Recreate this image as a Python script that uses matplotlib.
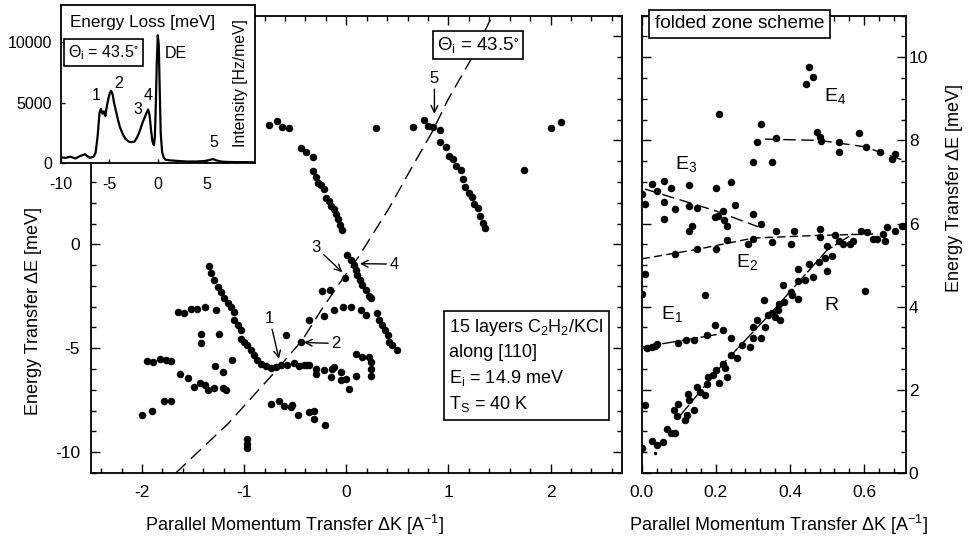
import numpy as np
import matplotlib
matplotlib.use("Agg")
import matplotlib.pyplot as plt
from matplotlib.ticker import MultipleLocator, FixedLocator, FixedFormatter

plt.rcParams['font.family'] = ['Liberation Sans', 'DejaVu Sans']
plt.rcParams['mathtext.fontset'] = 'custom'
plt.rcParams['mathtext.rm'] = 'Liberation Sans'
plt.rcParams['mathtext.it'] = 'Liberation Sans:italic'
plt.rcParams['mathtext.default'] = 'regular'
plt.rcParams['axes.unicode_minus'] = False

# ---------------- data: left panel (extended zone) ----------------
left_dk = [-0.757, -0.681, -0.626, -0.561, 0.293, 0.651, 0.765, 0.80, 0.85, 0.92, 2.007, 2.10,
           -0.44, -0.398, -0.326, -0.326, -0.30, -0.278, -0.244, -0.219, -0.196, -0.17, -0.147, -0.121, -0.105, -0.082, -0.063, -0.039,
           0.922, 0.978, 1.003, 1.046, 1.075, 1.124, 1.14, 1.166, 1.205, 1.232, 1.254, 1.287, 1.313, 1.339, 1.362, 1.736,
           0.01, 0.042, 0.074, 0.091, 0.108, 0.133, 0.156, 0.189, 0.221, 0.238, -0.014, -0.235, -0.16,
           -0.219, -0.121, -0.029, 0.042, 0.14, 0.189, 0.296, 0.319, 0.352, 0.384, 0.407, 0.417, 0.45, 0.492,
           -0.366, -0.447, -0.593,
           0.091, 0.156, 0.221, 0.238, 0.238, 0.238, -0.121, -0.056, 0.091, -0.219, -0.30, -0.38, -0.153, -0.056, -0.007, 0.025, -0.137, -0.30,
           -1.343, -1.32, -1.294, -1.261, -1.229, -1.196, -1.163, -1.131, -1.099, -1.099, -1.065, -1.033, -1.033, -1.0, -0.968, -0.935, -0.903, -0.870, -0.838, -0.789, -0.740, -0.69,
           -0.642, -0.577, -0.512, -0.463, -0.414, -0.366,
           -1.652, -1.593, -1.522, -1.457, -1.385, -1.278, -1.424, -1.424, -1.245,
           -1.952, -1.896, -1.822, -1.766, -1.717,
           -1.627, -1.548, -1.496, -1.431, -1.382, -1.359, -1.294, -1.206, -1.18,
           -1.287, -1.212, -1.124, -1.783, -1.717, -2.0, -1.906, -0.975, -0.968, -0.968,
           -0.740, -0.659, -0.610, -0.545, -0.528, -0.473, -0.366, -0.317, -0.317, -0.209]
left_de = [5.76, 5.95, 5.66, 5.59, 5.59, 5.63, 6.0, 5.71, 5.63, 5.50, 5.59, 5.88,
           4.63, 4.45, 4.21, 3.53, 3.26, 2.97, 2.84, 2.65, 2.25, 2.08, 1.84, 1.68, 1.44, 1.23, 0.95, 0.71,
           4.91, 4.70, 4.26, 4.10, 3.78, 3.57, 3.13, 2.78, 2.49, 2.29, 1.92, 1.76, 1.36, 1.04, 0.79, 3.57,
           -0.53, -0.74, -0.98, -1.22, -1.47, -1.71, -1.95, -2.19, -2.48, -2.59, -1.63, -2.24, -2.19,
           -3.45, -3.16, -3.03, -3.0, -3.16, -3.40, -3.29, -3.64, -3.89, -4.13, -4.37, -4.69, -4.85, -5.10,
           -3.64, -4.69, -4.37,
           -5.26, -5.42, -5.42, -5.66, -5.98, -6.31, -5.90, -6.15, -6.31, -6.06, -6.22, -5.82, -6.39, -6.51, -6.47, -6.95, -5.98, -5.98,
           -1.03, -1.39, -1.71, -2.03, -2.27, -2.60, -2.84, -3.0, -3.24, -3.64, -3.89, -4.13, -4.53, -4.69, -4.85, -5.10, -5.34, -5.58, -5.74, -5.87, -5.93, -5.88,
           -5.82, -5.82, -5.71, -5.87, -5.82, -5.82,
           -3.24, -3.29, -3.13, -3.13, -3.0, -3.16, -4.29, -4.77, -4.29,
           -5.61, -5.66, -5.53, -5.58, -5.63,
           -6.22, -6.44, -6.87, -6.68, -6.79, -7.03, -6.90, -6.90, -7.03,
           -5.87, -6.15, -5.58, -7.52, -7.52, -8.21, -8.0, -9.37, -9.61, -9.81,
           -7.68, -7.55, -7.76, -7.84, -7.71, -8.19, -8.08, -8.0, -8.40, -8.68]

# scan curve for Theta_i = 43.5 deg
scan_dk = [-1.67, -1.16, -0.71, -0.43, -0.25, -0.07, 0.12, 0.42, 0.63, 0.84, 1.00, 1.21, 1.43]
scan_de = [-11.0, -8.64, -6.2, -4.6, -3.2, -1.9, -0.6, 1.75, 3.6, 5.4, 7.0, 8.8, 11.0]

left_yticks = [-10, -5, 0, 5, 10]
left_yticklabels = ['-10', '-5', '0', '', '']

# ---------------- data: right panel (folded zone) ----------------
right_dk = [0.452, 0.4615, 0.443, 0.2095, 0.321, 0.310, 0.362, 0.2995, 0.351, 0.472, 0.481, 0.483, 0.533, 0.533, 0.585, 0.605, 0.643, 0.675, 0.684,
            0.0, 0.009, 0.027, 0.040, 0.060, 0.060, 0.060, 0.079, 0.090, 0.128, 0.128, 0.150, 0.128, 0.135, 0.2005, 0.240, 0.198, 0.207, 0.220, 0.223, 0.231, 0.252, 0.301, 0.322,
            0.090, 0.150, 0.2005, 0.231, 0.288, 0.301, 0.351, 0.362, 0.402, 0.411, 0.481, 0.481, 0.522, 0.533, 0.562, 0.571, 0.591, 0.607, 0.625, 0.636, 0.652, 0.657, 0.663, 0.684, 0.702, 0.710,
            0.0, 0.009, 0.009, 0.0, 0.171, 0.603,
            0.015, 0.027, 0.036, 0.040, 0.099, 0.120, 0.141, 0.177, 0.198, 0.220, 0.240,
            0.027, 0.040, 0.058, 0.069, 0.078, 0.090, 0.087, 0.099, 0.096, 0.117, 0.121, 0.126, 0.128, 0.141, 0.150, 0.157, 0.171, 0.175, 0.180, 0.192,
            0.2095, 0.2005, 0.220, 0.225, 0.231, 0.240, 0.258, 0.270, 0.292, 0.2995, 0.301, 0.310, 0.321, 0.330, 0.333, 0.342, 0.351, 0.360, 0.373, 0.371,
            0.381, 0.402, 0.423, 0.423, 0.423, 0.441, 0.450, 0.4615, 0.477, 0.501, 0.513, 0.495, 0.501, 0.544, 0.369, 0.405, 0.383]
right_de = [9.76, 9.53, 9.36, 8.64, 8.39, 7.96, 8.05, 7.49, 7.49, 8.20, 8.07, 7.99, 7.95, 7.71, 8.19, 7.83, 7.71, 7.55, 7.67,
            6.72, 6.48, 6.96, 6.79, 7.03, 6.53, 6.11, 6.85, 6.35, 6.93, 6.43, 6.37, 5.83, 5.95, 6.85, 6.99, 6.15, 6.19, 6.31, 6.08, 5.95, 6.45, 6.24, 6.00,
            5.27, 5.38, 5.38, 5.61, 5.52, 5.63, 5.56, 5.83, 5.52, 5.83, 5.87, 5.68, 5.72, 5.57, 5.52, 5.59, 5.83, 5.79, 5.63, 5.63, 5.75, 5.59, 5.92, 5.83, 5.95, 5.95,
            4.31, 4.79, 1.63, 0.61, 4.29, 4.37,
            3.01, 3.03, 3.06, 3.11, 3.12, 3.20, 3.19, 3.31, 3.55, 3.43, 3.25,
            0.77, 0.67, 0.74, 1.07, 0.96, 0.96, 1.51, 1.65, 1.36, 1.27, 1.39, 1.91, 1.75, 1.52, 2.06, 1.94, 1.88, 2.15, 2.32, 2.35,
            2.16, 2.47, 2.63, 2.53, 2.31, 2.85, 2.77, 3.09, 3.04, 3.25, 3.52, 3.67, 3.25, 4.16, 3.51, 3.79, 3.84, 3.76, 3.67, 4.07,
            4.52, 4.35, 4.19, 4.63, 4.91, 4.64, 5.03, 4.72, 5.07, 4.85, 5.23, 5.17, 5.47, 5.52, 3.91, 4.29, 4.11]
small_dk = [0.036]
small_de = [0.48]

# guide lines
e4_dk, e4_de = [0.333, 0.48, 0.60, 0.713], [8.03, 8.0, 7.85, 7.5]
e3_dk, e3_de = [0.009, 0.198, 0.315], [6.83, 6.31, 5.92]
e2_dk, e2_de = [0.0, 0.15, 0.30, 0.46, 0.63], [5.15, 5.38, 5.65, 5.71, 5.75]
e1_dk, e1_de = [0.004, 0.2025], [3.03, 3.33]
r_dk, r_de = [0.099, 0.22, 0.355, 0.50, 0.57], [1.33, 2.63, 3.91, 5.36, 5.75]

# ---------------- data: inset TOF spectrum ----------------
spec_e = [-10, -9.5, -9, -8.5, -8, -7.5, -7, -6.6, -6.4, -6.2, -6.0, -5.85, -5.7, -5.55, -5.4, -5.25, -5.1,
          -4.95, -4.8, -4.65, -4.5, -4.3, -4.1, -3.9, -3.6, -3.3, -3.0, -2.7, -2.4, -2.1, -1.8, -1.6, -1.4,
          -1.2, -1.0, -0.85, -0.7, -0.55, -0.4, -0.3, -0.2, -0.1, 0.0, 0.1, 0.2, 0.3, 0.45, 0.6, 0.8, 1.2,
          2, 3, 4, 5, 5.4, 5.7, 6.0, 6.5, 7, 8, 9, 10]
spec_i = [500, 450, 550, 400, 600, 750, 450, 550, 900, 2200, 4200, 4500, 4100, 4300, 3900, 4700, 5300,
          5800, 6000, 5700, 5000, 4300, 3600, 3000, 2400, 2000, 1800, 1750, 1800, 2200, 2800, 3300, 3700,
          4100, 4450, 4000, 2800, 1800, 1500, 2200, 5000, 8500, 10600, 9800, 6000, 2500, 900, 500, 300, 250,
          200, 150, 150, 200, 300, 350, 250, 150, 120, 100, 100, 80]

# ---------------- figure ----------------
fig = plt.figure(figsize=(9.69, 5.41), dpi=100)
axL = fig.add_axes([0.0939, 0.1257, 0.5480, 0.8453])
axR = fig.add_axes([0.6622, 0.1257, 0.2728, 0.8453])
axI = fig.add_axes([0.0626, 0.6981, 0.2005, 0.2926])

def style(ax, lw=1.3):
    for s in ax.spines.values():
        s.set_linewidth(lw)
    ax.tick_params(which='both', direction='in', top=True, right=True, width=1.0, colors='black')
    ax.tick_params(which='major', length=6.5, labelsize=12.5)
    ax.tick_params(which='minor', length=3.5)

# left panel
style(axL)
axL.plot(left_dk, left_de, 'o', color='black', markersize=5.4, markeredgewidth=0)
axL.plot(scan_dk, scan_de, color='black', lw=1.0, dashes=(10, 5))
axL.set_xlim(-2.5, 2.7)
axL.set_ylim(-11, 11)
axL.xaxis.set_major_locator(MultipleLocator(1))
axL.xaxis.set_minor_locator(MultipleLocator(0.2))
axL.yaxis.set_major_locator(FixedLocator(left_yticks))
axL.yaxis.set_major_formatter(FixedFormatter(left_yticklabels))
axL.yaxis.set_minor_locator(MultipleLocator(1))
axL.tick_params(axis='x', pad=9)
axL.tick_params(axis='y', pad=8)
axL.set_xlabel('Parallel Momentum Transfer ΔK [A$^{-1}$]', fontsize=13)
axL.set_ylabel('Energy Transfer ΔE [meV]', fontsize=13)
axL.xaxis.set_label_coords(0.384, -0.114)
axL.xaxis.label.set_va('center')
axL.yaxis.set_label_coords(-0.109, 0.354)
axL.yaxis.label.set_va('center')

axL.text(1.293, 9.58, r'$\Theta_i$ = 43.5$^{\circ}$', fontsize=13.5, ha='center', va='center',
         bbox=dict(boxstyle='square,pad=0.2', fc='white', ec='black', lw=1.2))
axL.text(1.01, -3.5, '15 layers C$_2$H$_2$/KCl\nalong [110]\nE$_i$ = 14.9 meV\nT$_S$ = 40 K',
         fontsize=13, ha='left', va='top', linespacing=1.45,
         bbox=dict(boxstyle='square,pad=0.3', fc='white', ec='black', lw=1.2))
arrowp = dict(arrowstyle='->', color='black', lw=1.0, shrinkA=0, shrinkB=0)
axL.annotate('5', xy=(0.863, 6.28), xytext=(0.863, 7.6), ha='center', va='bottom', fontsize=12, arrowprops=arrowp)
axL.annotate('1', xy=(-0.659, -5.5), xytext=(-0.75, -3.95), ha='center', va='bottom', fontsize=12, arrowprops=arrowp)
axL.annotate('2', xy=(-0.414, -4.72), xytext=(-0.15, -4.77), ha='left', va='center', fontsize=12, arrowprops=arrowp)
axL.annotate('3', xy=(-0.039, -1.34), xytext=(-0.25, -0.15), ha='right', va='center', fontsize=12, arrowprops=arrowp)
axL.annotate('4', xy=(0.133, -0.93), xytext=(0.42, -0.95), ha='left', va='center', fontsize=12, arrowprops=arrowp)

# right panel
style(axR)
axR.plot(right_dk, right_de, 'o', color='black', markersize=5.4, markeredgewidth=0)
axR.plot(small_dk, small_de, 'o', color='black', markersize=2.5, markeredgewidth=0)
axR.plot(e4_dk, e4_de, color='black', lw=1.0, dashes=(9, 4))
axR.plot(e3_dk, e3_de, color='black', lw=1.0, dashes=(9, 4))
axR.plot(e2_dk, e2_de, color='black', lw=1.0, dashes=(6, 3))
axR.plot(e1_dk, e1_de, color='black', lw=1.0, dashes=(12, 2))
axR.plot(r_dk, r_de, color='black', lw=1.0, dashes=(12, 2))
axR.set_xlim(0, 0.713)
axR.set_ylim(0, 11)
axR.xaxis.set_major_locator(MultipleLocator(0.2))
axR.xaxis.set_minor_locator(MultipleLocator(0.04))
axR.yaxis.set_major_locator(MultipleLocator(2))
axR.yaxis.set_minor_locator(MultipleLocator(0.5))
axR.xaxis.set_major_formatter(matplotlib.ticker.FormatStrFormatter('%.1f'))
axR.tick_params(labelleft=False, labelright=True)
axR.tick_params(axis='x', pad=9)
axR.tick_params(axis='y', pad=2)
axR.yaxis.set_label_position('right')
axR.set_xlabel('Parallel Momentum Transfer ΔK [A$^{-1}$]', fontsize=13)
axR.set_ylabel('Energy Transfer ΔE [meV]', fontsize=13)
axR.xaxis.set_label_coords(0.516, -0.114)
axR.xaxis.label.set_va('center')
axR.yaxis.set_label_coords(1.185, 0.623)
axR.yaxis.label.set_va('center')
axR.text(0.05, 0.982, 'folded zone scheme', transform=axR.transAxes, fontsize=13.7, ha='left', va='center',
         clip_on=False, bbox=dict(boxstyle='square,pad=0.3', fc='white', ec='black', lw=1.2), zorder=5)
for lab, x, y in [('E$_4$', 0.522, 9.07), ('E$_3$', 0.121, 7.43), ('E$_2$', 0.283, 5.07),
                  ('E$_1$', 0.081, 3.83), ('R', 0.513, 4.03)]:
    axR.text(x, y, lab, fontsize=14, ha='center', va='center')

# inset
style(axI, lw=1.3)
axI.set_facecolor('white')
axI.plot(spec_e, spec_i, color='black', lw=1.6)
axI.set_xlim(-10, 10)
axI.set_ylim(0, 13100)
axI.set_xticks([-10, -5, 0, 5])
axI.set_yticks([0, 5000, 10000])
axI.tick_params(which='both', top=False, right=False, labelsize=11.5)
axI.tick_params(which='minor', length=0)
axI.tick_params(which='major', length=3)
axI.tick_params(axis='x', pad=10)
axI.tick_params(axis='y', pad=6)
axI.text(-1.6, 11650, 'Energy Loss [meV]', fontsize=12.3, ha='center', va='center')
axI.text(8.5, 6650, 'Intensity [Hz/meV]', fontsize=11.3, ha='center', va='center', rotation=90)
axI.text(-5.6, 9150, r'$\Theta_i$ = 43.5$^{\circ}$', fontsize=11.5, ha='center', va='center',
         bbox=dict(boxstyle='square,pad=0.25', fc='white', ec='black', lw=1.2))
for lab, x, y in [('1', -6.33, 5650), ('2', -4.03, 6630), ('3', -2.07, 4420), ('4', -0.99, 5580),
                  ('DE', 1.9, 9120), ('5', 5.8, 1710)]:
    axI.text(x, y, lab, fontsize=11.5, ha='center', va='center')

fig.savefig('out.png', dpi=100)
